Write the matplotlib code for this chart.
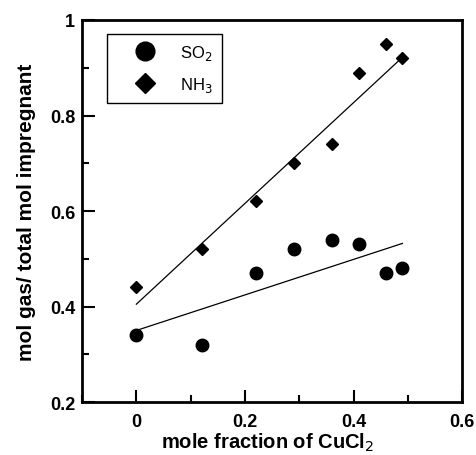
import numpy as np
import matplotlib
matplotlib.use("Agg")
import matplotlib.pyplot as plt
from matplotlib.ticker import MultipleLocator

# data
mole_frac = [0.0, 0.12, 0.22, 0.29, 0.36, 0.41, 0.46, 0.49]
so2 = [0.34, 0.32, 0.47, 0.52, 0.54, 0.53, 0.47, 0.48]
nh3 = [0.44, 0.52, 0.62, 0.70, 0.74, 0.89, 0.95, 0.92]

# straight fit lines (slope, intercept) as drawn
so2_fit = (0.372, 0.350)
nh3_fit = (1.055, 0.405)

plt.rcParams['font.family'] = ['Liberation Sans', 'DejaVu Sans']

fig = plt.figure(figsize=(4.77, 4.56), dpi=100)
ax = fig.add_axes([0.172, 0.116, 0.797, 0.838])

xs = np.array([min(mole_frac), max(mole_frac)])
ax.plot(xs, so2_fit[0] * xs + so2_fit[1], color='black', lw=0.9)
ax.plot(xs, nh3_fit[0] * xs + nh3_fit[1], color='black', lw=0.9)

ax.plot(mole_frac, so2, 'o', color='black', ms=9, label='SO$_2$')
ax.plot(mole_frac, nh3, 'D', color='black', ms=6.5, label='NH$_3$')

ax.set_xlim(-0.1, 0.6)
ax.set_ylim(0.2, 1.0)
ax.xaxis.set_minor_locator(MultipleLocator(0.1))
ax.yaxis.set_minor_locator(MultipleLocator(0.1))
ax.set_xticks([0, 0.2, 0.4, 0.6])
ax.set_xticklabels(['0', '0.2', '0.4', '0.6'])
ax.set_yticks([0.2, 0.4, 0.6, 0.8, 1.0])
ax.set_yticklabels(['0.2', '0.4', '0.6', '0.8', '1'])

ax.tick_params(which='both', direction='in', top=False, right=False, width=1.5)
ax.tick_params(which='major', length=9, labelsize=13)
ax.tick_params(axis='x', which='major', pad=8)
ax.tick_params(axis='y', which='major', pad=5)
ax.tick_params(which='minor', length=5)
for lab in ax.get_xticklabels() + ax.get_yticklabels():
    lab.set_fontweight('bold')
for s in ax.spines.values():
    s.set_linewidth(2)

ax.set_xlabel('mole fraction of CuCl$_2$', fontsize=14.5, fontweight='bold', labelpad=0)
ax.xaxis.label.set_x(0.488)
ax.set_ylabel('mol gas/ total mol impregnant', fontsize=15, fontweight='bold', labelpad=10)

leg = ax.legend(loc='upper left', bbox_to_anchor=(0.066, 0.963), borderaxespad=0,
                fancybox=False, edgecolor='black', fontsize=12, markerscale=1.5,
                handletextpad=0.39, borderpad=0.55, labelspacing=0.75,
                handlelength=3.45, framealpha=1)
leg.get_frame().set_linewidth(1)

fig.savefig('out.png', dpi=100)
